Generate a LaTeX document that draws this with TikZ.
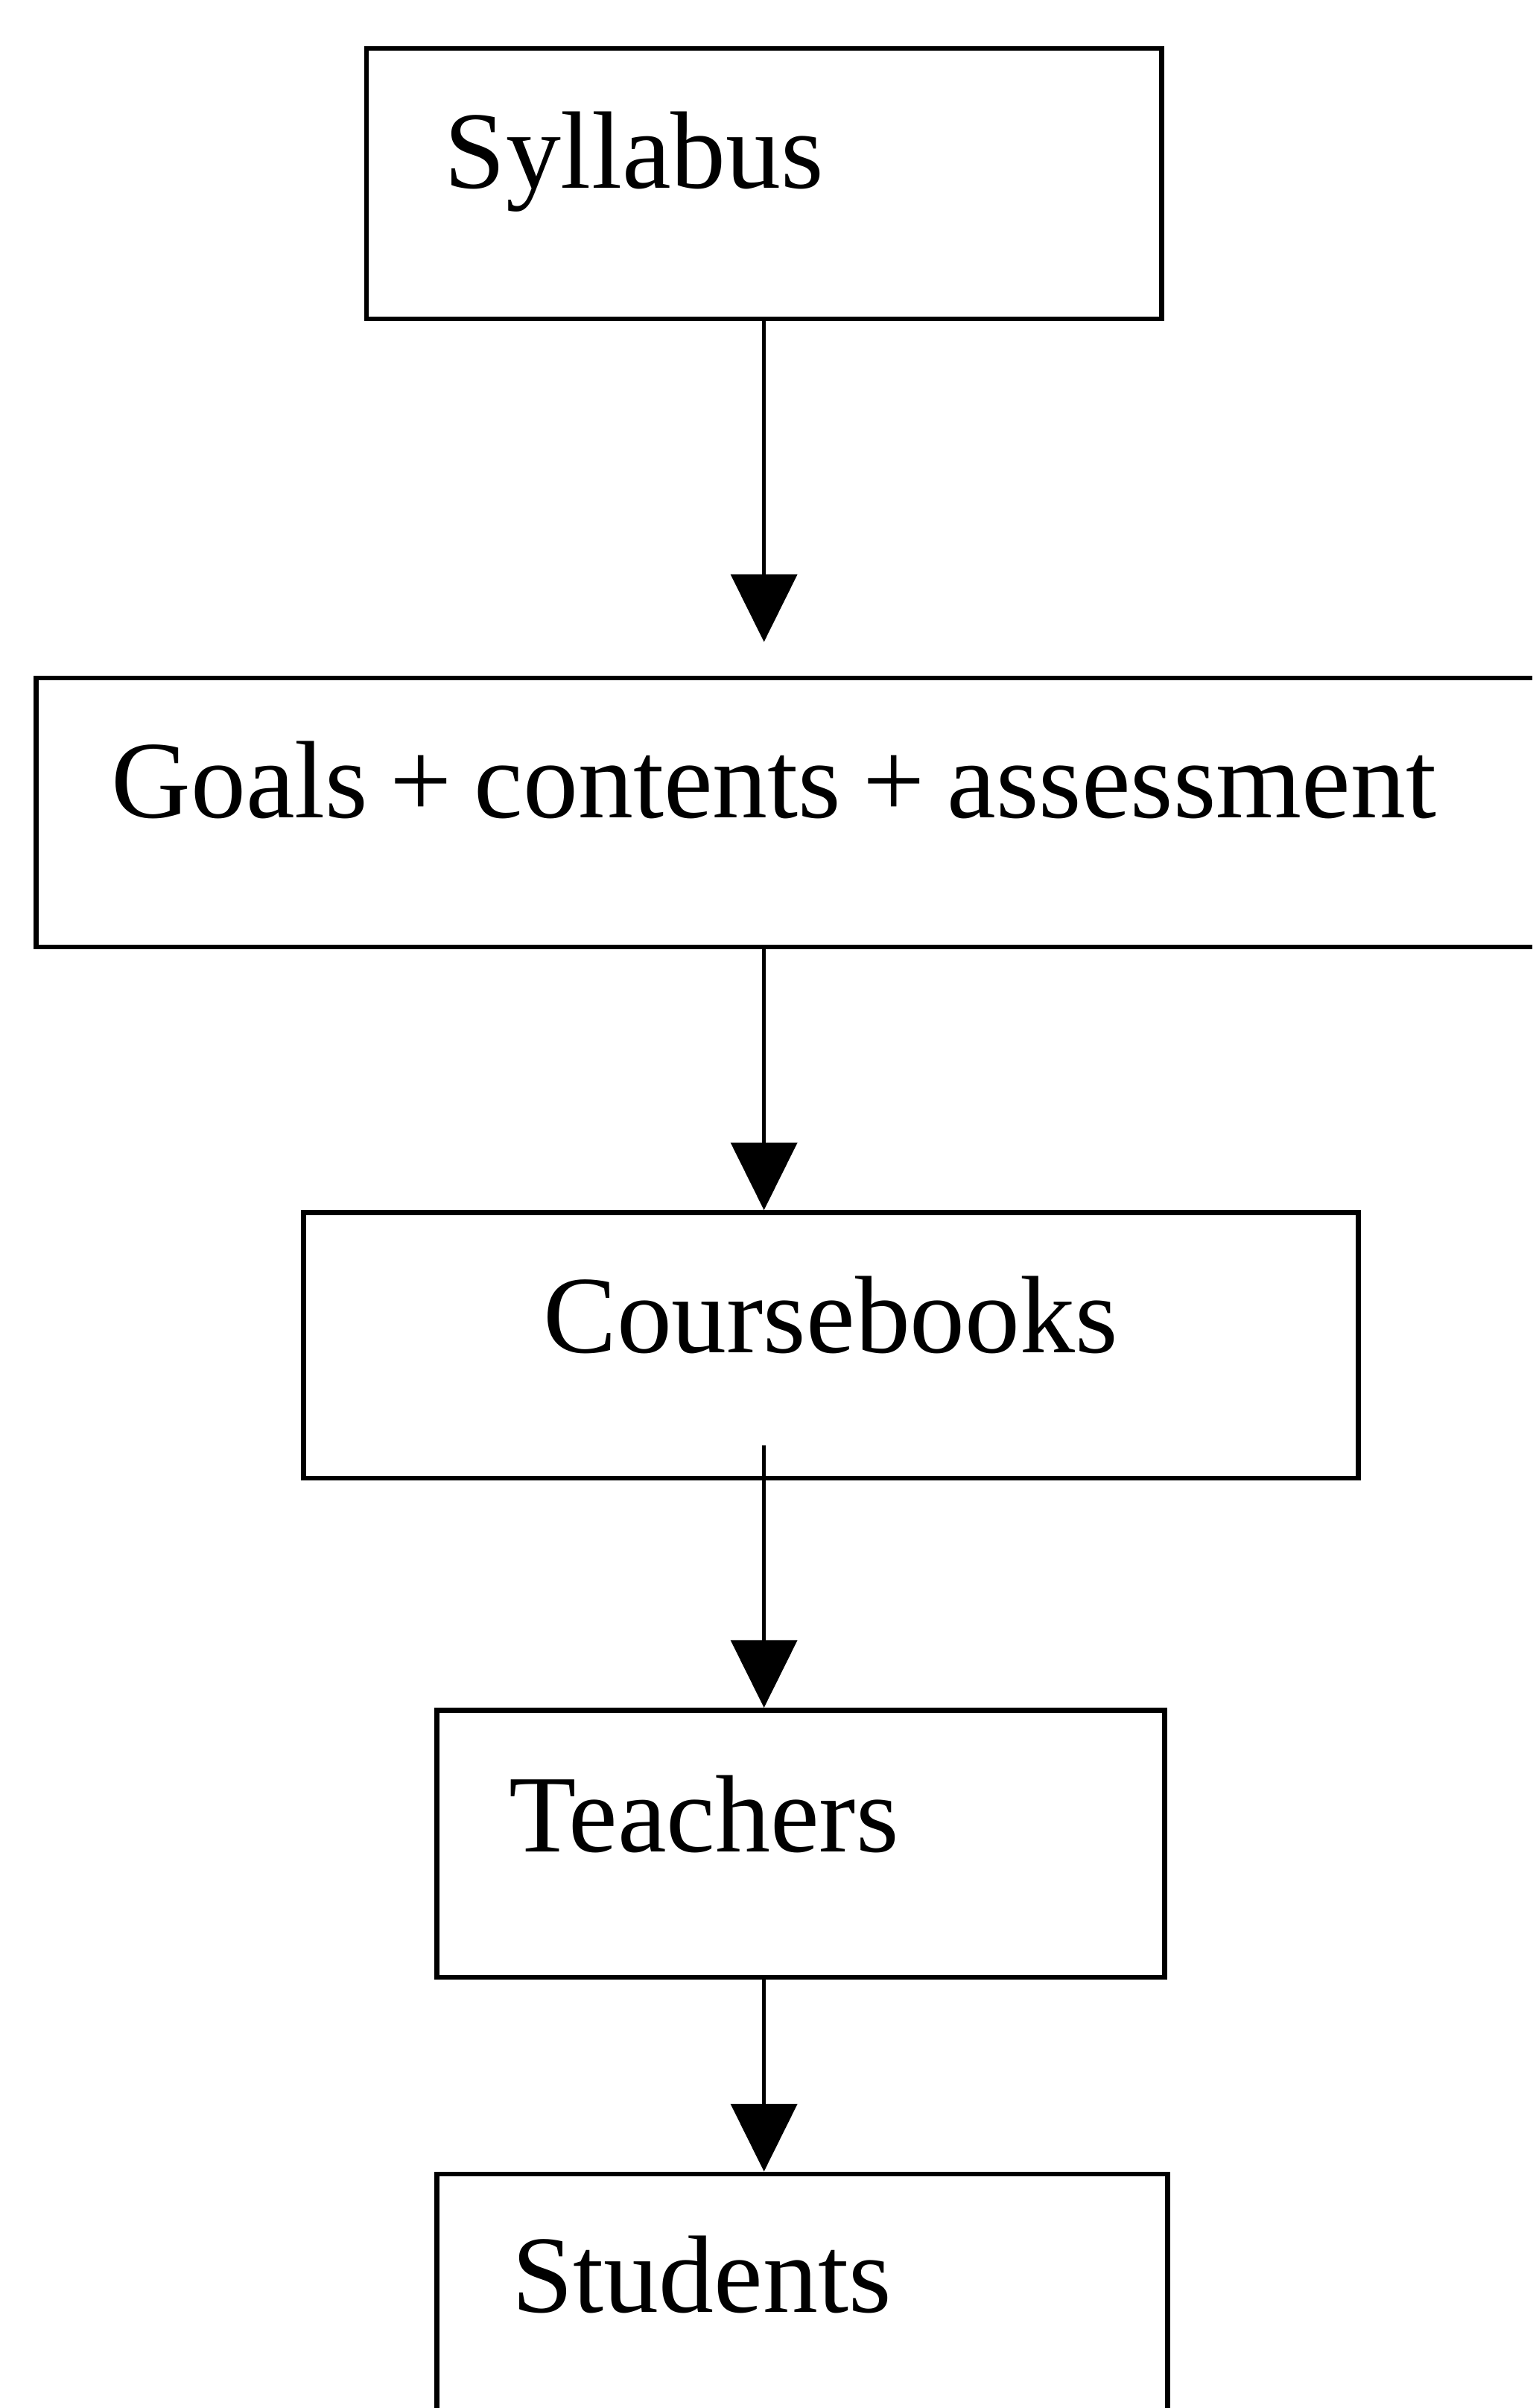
\documentclass[tikz,border=0pt]{standalone}
\usepackage{fontspec}
\setmainfont{Liberation Serif}
\usetikzlibrary{arrows.meta}

\begin{document}
\begin{tikzpicture}[
        box/.style = {draw, line width=0.9pt, anchor=north west, inner ysep=0pt, align=left, font=\fontsize{20.4}{24}\selectfont},
        flow/.style = {line width=0.7pt, -{Triangle[length=4.4mm, width=4.3mm]}}
    ]
        % Page frame
        \useasboundingbox (0,0) rectangle (9.98,-15.68);
        \clip (0,0) rectangle (9.98,-15.68);

        % Draw boxes
        \node[box, inner xsep=5.1mm, text width=41.6mm, text height=9.1mm, text depth=8.5mm] (syl) at (2.37,-0.30) {Syllabus};
        \node[box, inner xsep=4.9mm, text width=100mm, text height=9.1mm, text depth=8.4mm] (goal) at (0.22,-4.40) {\spaceskip=0.2em Goals + contents + assessment};
        \node[box, align=center, inner xsep=2mm, text width=64.7mm, text height=9.1mm, text depth=8.2mm] (cb) at (1.96,-7.88) {Coursebooks};
        \node[box, inner xsep=4.7mm, text width=38.0mm, text height=9.2mm, text depth=8.2mm] (tea) at (2.83,-11.12) {Teachers};
        \node[box, inner xsep=4.9mm, text width=37.8mm, text height=9.0mm, text depth=9.6mm] (stu) at (2.83,-14.14) {Students};

        % Draw arrows
        \draw[flow, shorten >=2.2mm] (syl.south) -- (syl.south |- goal.north);
        \draw[flow] (goal.south -| syl.south) -- (syl.south |- cb.north);
        \draw[flow] ([yshift=2.3mm]cb.south -| syl.south) -- (syl.south |- tea.north);
        \draw[flow] (tea.south -| syl.south) -- (syl.south |- stu.north);

    \end{tikzpicture}
\end{document}
